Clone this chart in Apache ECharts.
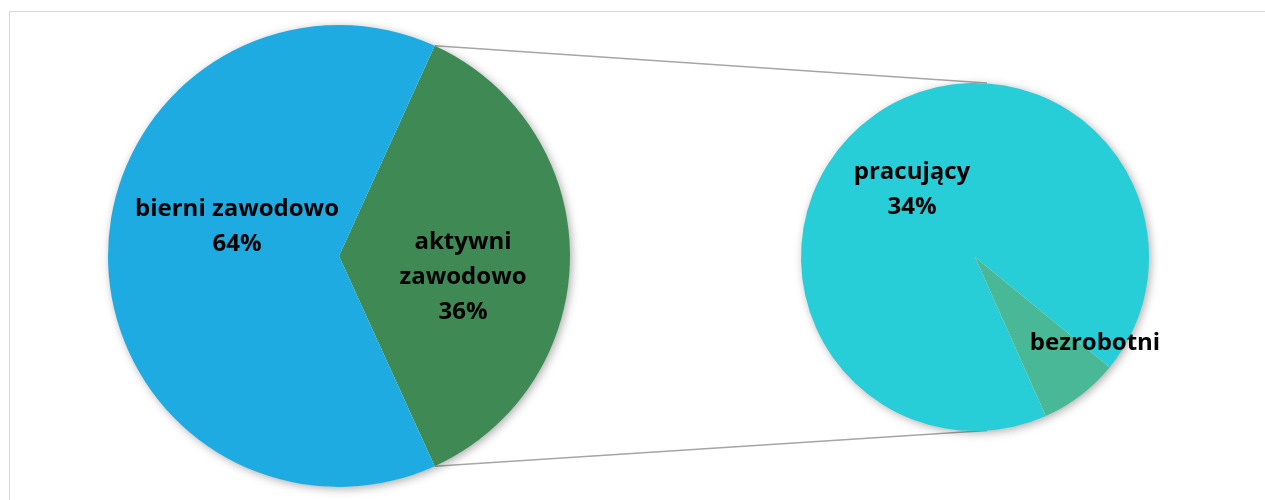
<!DOCTYPE html>
<html>
<head>
<meta charset="utf-8">
<script src="https://cdn.jsdelivr.net/npm/echarts@6/dist/echarts.min.js"></script>
<style>
  html, body { margin: 0; padding: 0; background: #fff; }
  #main { width: 1265px; height: 500px; }
</style>
</head>
<body>
<div id="main"></div>
<script>
// pie of pie: ludność wg aktywności zawodowej
const mainNames = ['aktywni zawodowo', 'bierni zawodowo'];
const mainValues = [36.4, 63.6];
const subNames = ['pracujący', 'bezrobotni'];
const subValues = [33.7, 2.7];

const mainColors = ['#3e8954', '#1eabe2'];
const subColors = ['#27cdd7', '#48b896'];

// geometria
const leftC = [339, 256], leftR = 231;
const rightC = [975, 257], rightR = 174;
const fontFam = '"Open Sans", Lato, sans-serif';

// miejsca etykiet (srodek tekstu)
const labelPos = {
  'bierni': [237, 227],
  'aktywni': [463, 277],
  'pracujący': [912, 190],
  'bezrobotni': [1095, 343]
};

const chart = echarts.init(document.getElementById('main'));

let total = 0;
mainValues.forEach(v => total += v);
// wycinek aktywnych wysrodkowany na wschodzie
const activeAngle = mainValues[0] / total * 360;
const leftStart = activeAngle / 2;

let subTotal = 0;
subValues.forEach(v => subTotal += v);
const bezAngle = subValues[1] / subTotal * 360;
const rightStart = -39.3 - bezAngle + 360;

function edgePt(c, r, deg) {
  const a = deg * Math.PI / 180;
  return [c[0] + r * Math.cos(a), c[1] - r * Math.sin(a)];
}
const topL = edgePt(leftC, leftR, leftStart);
const botL = edgePt(leftC, leftR, leftStart - activeAngle);
const topR = [rightC[0] + 12, rightC[1] - rightR];
const botR = [rightC[0] + 12, rightC[1] + rightR - 0.5];

// cien tylko pod calym kolem, nie miedzy wycinkami
function shadowPie(center, r, sum) {
  return {
    type: 'pie',
    center: center,
    radius: [0, r - 0.5],
    silent: true,
    z: 1,
    label: { show: false },
    labelLine: { show: false },
    itemStyle: {
      color: '#fff',
      shadowBlur: 10,
      shadowOffsetX: 2,
      shadowOffsetY: 2,
      shadowColor: 'rgba(0,0,0,0.35)'
    },
    data: [{ name: '', value: sum }]
  };
}

function layoutFn(params) {
  const key = params.text.split(/[\s\n]/)[0];
  const p = labelPos[key];
  if (!p) return {};
  return { x: p[0], y: p[1] };
}

const labelStyle = {
  show: true,
  position: 'inside',
  color: '#000',
  fontFamily: fontFam,
  fontWeight: 'bold',
  fontSize: 24,
  lineHeight: 35,
  align: 'center'
};

chart.setOption({
  animation: false,
  graphic: [
    {
      type: 'rect',
      shape: { x: 9.5, y: 11.5, width: 1400, height: 600 },
      style: { fill: 'none', stroke: '#d9d9d9', lineWidth: 1 },
      z: -10
    },
    {
      type: 'line',
      shape: { x1: topL[0], y1: topL[1], x2: topR[0], y2: topR[1] },
      style: { stroke: '#a6a6a6', lineWidth: 1.5 },
      z: -5
    },
    {
      type: 'line',
      shape: { x1: botL[0], y1: botL[1], x2: botR[0], y2: botR[1] },
      style: { stroke: '#a6a6a6', lineWidth: 1.5 },
      z: -5
    }
  ],
  series: [
    shadowPie(leftC, leftR, total),
    shadowPie(rightC, rightR, subTotal),
    {
      type: 'pie',
      center: leftC,
      radius: [0, leftR],
      startAngle: leftStart,
      clockwise: true,
      silent: true,
      z: 2,
      itemStyle: { borderWidth: 0 },
      label: Object.assign({}, labelStyle, {
        formatter: p => p.name === 'aktywni zawodowo'
          ? 'aktywni\nzawodowo\n' + Math.round(p.value) + '%'
          : p.name + '\n' + Math.round(p.value) + '%'
      }),
      labelLine: { show: false },
      labelLayout: layoutFn,
      data: mainNames.map((n, i) => ({ name: n, value: mainValues[i], itemStyle: { color: mainColors[i] } }))
    },
    {
      type: 'pie',
      center: rightC,
      radius: [0, rightR],
      startAngle: rightStart,
      clockwise: true,
      silent: true,
      z: 2,
      itemStyle: { borderWidth: 0 },
      label: Object.assign({}, labelStyle, {
        formatter: p => p.name === 'bezrobotni'
          ? p.name
          : p.name + '\n' + Math.round(p.value) + '%'
      }),
      labelLine: { show: false },
      labelLayout: layoutFn,
      data: subNames.map((n, i) => ({ name: n, value: subValues[i], itemStyle: { color: subColors[i] } }))
    }
  ]
});
</script>
</body>
</html>
